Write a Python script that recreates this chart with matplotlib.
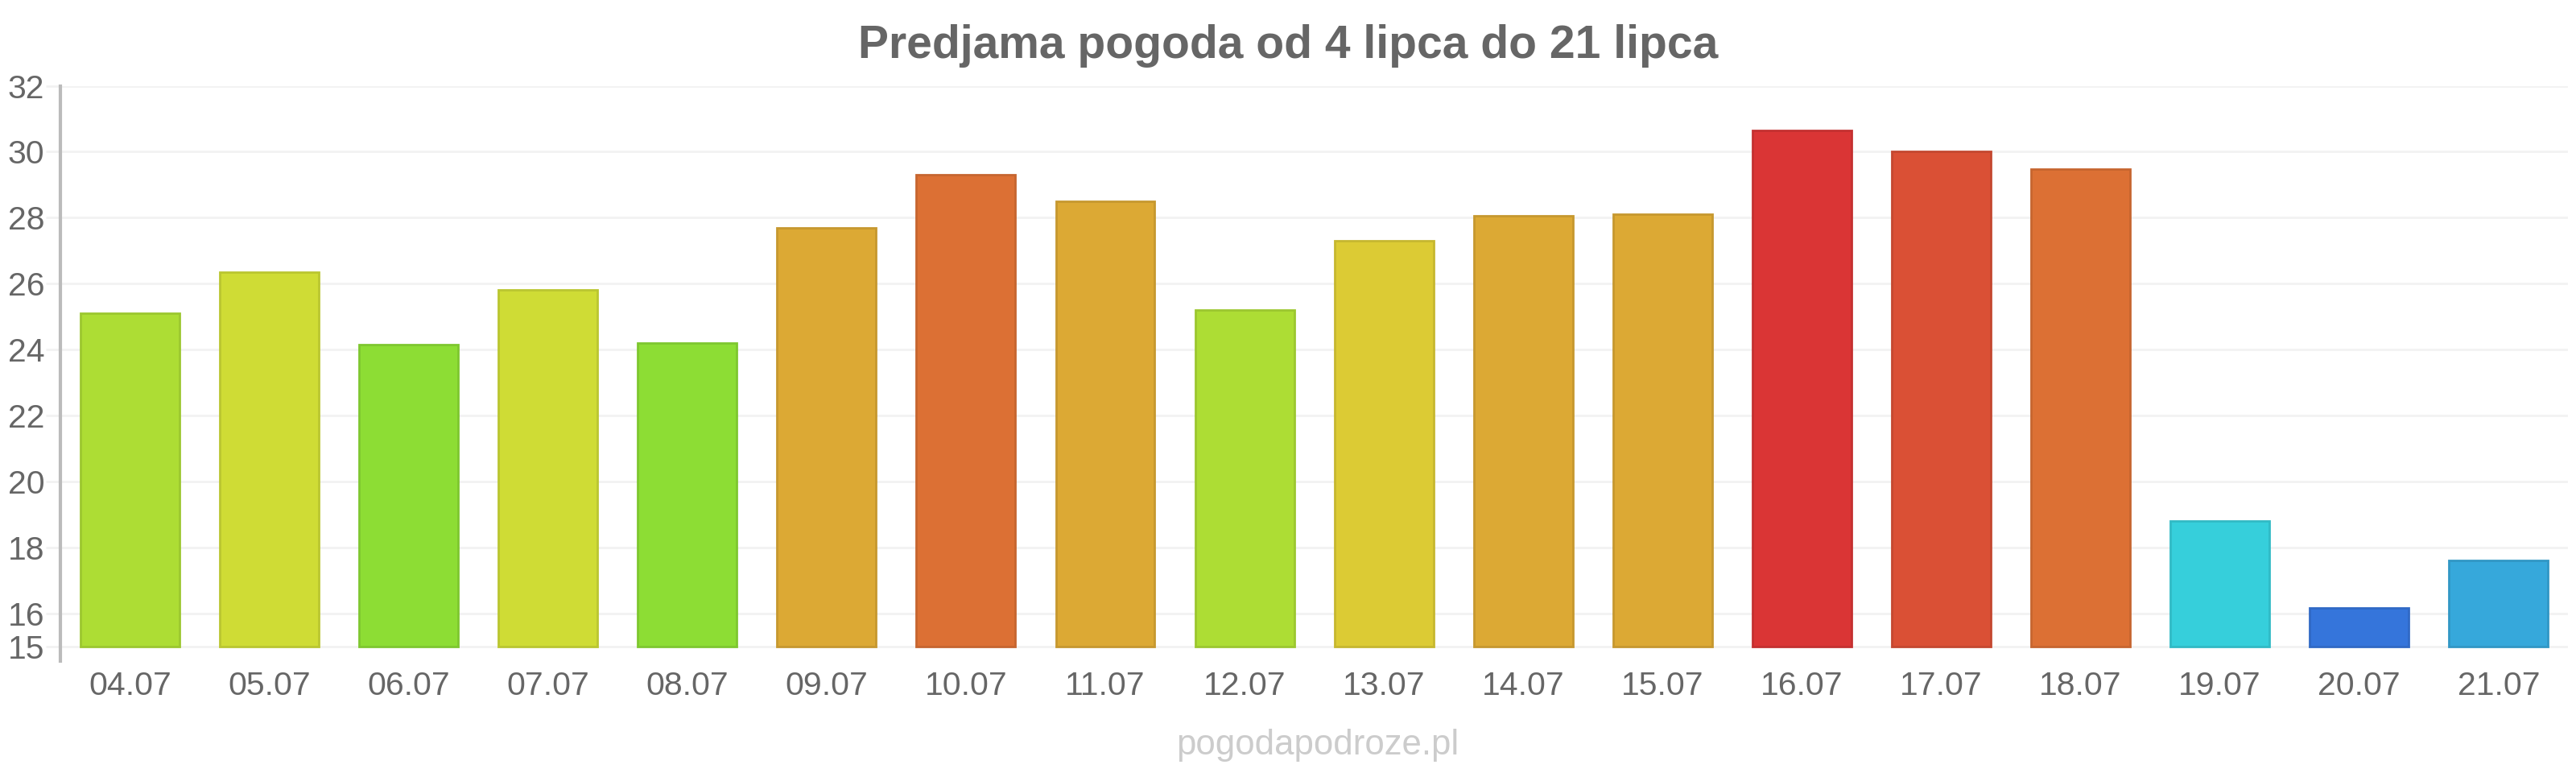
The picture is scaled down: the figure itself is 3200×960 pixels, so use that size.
import matplotlib
matplotlib.use("Agg")
import matplotlib.pyplot as plt

plt.rcParams['font.family'] = ['Liberation Sans', 'DejaVu Sans']

dates = ["04.07", "05.07", "06.07", "07.07", "08.07", "09.07", "10.07", "11.07", "12.07",
         "13.07", "14.07", "15.07", "16.07", "17.07", "18.07", "19.07", "20.07", "21.07"]
temps = [25.1, 26.35, 24.15, 25.8, 24.2, 27.7, 29.3, 28.5, 25.2,
         27.3, 28.05, 28.1, 30.65, 30.0, 29.48, 18.8, 16.15, 17.6]
colors = ["#addd34", "#cfdc35", "#8ddd34", "#cfdc35", "#8ddd34", "#dca934", "#dc7034", "#dca934", "#addd34",
          "#dccb34", "#dca934", "#dca934", "#da3535", "#da5035", "#dc7034", "#36cfdb", "#3575db", "#36a8db"]
edges = ["#9cc72f", "#bac630", "#7ec72f", "#bac630", "#7ec72f", "#c6982f", "#c6652f", "#c6982f", "#9cc72f",
         "#c6b72f", "#c6982f", "#c6982f", "#c43030", "#c44830", "#c6652f", "#31bac5", "#3069c5", "#3197c5"]
yticks = [15, 16, 18, 20, 22, 24, 26, 28, 30, 32]
title = "Predjama pogoda od 4 lipca do 21 lipca"
watermark = "pogodapodroze.pl"

fig = plt.figure(figsize=(32, 9.6), dpi=100)
ax = fig.add_axes([0.0234, 0.1448, 0.9736, 0.889 - 0.1448])

x = list(range(len(dates)))
bottom = yticks[0]
ax.bar(x, [t - bottom for t in temps], bottom=bottom, width=0.71, color=colors,
       edgecolor=edges, linewidth=2, zorder=3)

ax.set_xlim(-0.5, len(dates) - 0.5)
ax.set_ylim(14.55, 32)
ax.set_yticks(yticks)
ax.set_yticklabels([str(v) for v in yticks])
ax.set_xticks(x)
ax.set_xticklabels(dates)
ax.grid(axis='y', color='#f2f2f2', linewidth=2, zorder=0)
ax.tick_params(axis='y', length=13, width=2, color='#f2f2f2', labelsize=29.5, labelcolor='#666666', pad=1)
ax.tick_params(axis='x', length=0, labelsize=29.5, labelcolor='#666666', pad=9)
for s in ['top', 'right', 'bottom']:
    ax.spines[s].set_visible(False)
ax.spines['left'].set_color('#bbbbbb')
ax.spines['left'].set_linewidth(3)

fig.text(0.5, 0.941, title, ha='center', va='center', fontsize=41, fontweight='bold', color='#666666')
fig.text(0.5115, 0.036, watermark, ha='center', va='center', fontsize=31.5, color='#cccccc')

fig.savefig("out.png", dpi=100, facecolor='white')
